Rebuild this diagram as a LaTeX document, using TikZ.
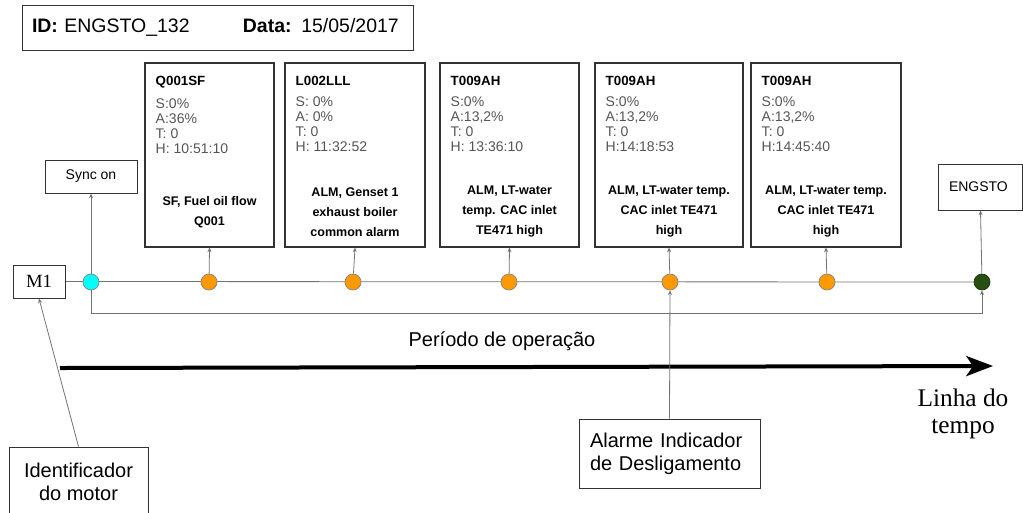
\documentclass[tikz,border=0pt]{standalone}
\usepackage{fontspec}
\setmainfont{Liberation Sans}
\newfontfamily\timesfont{Liberation Serif}
\usepackage{tikz}
\usetikzlibrary{positioning,
           arrows.meta}
\pgfdeclarelayer{background}
\pgfsetlayers{background,main}
\definecolor{laranja}{RGB}{255,153,0}
\definecolor{ciano}{RGB}{0,255,255}
\definecolor{verdeesc}{RGB}{39,78,19}
\definecolor{cinzatxt}{RGB}{85,85,85}
\definecolor{cinzalin}{RGB}{115,115,115}
\definecolor{borda}{RGB}{51,51,51}
\tikzset{
  caixa/.style={draw=borda,line width=0.8pt,minimum height=138pt,inner sep=0pt},
  titulo/.style={anchor=north west,inner sep=0pt,font=\bfseries\fontsize{10}{11.25}\selectfont},
  dados/.style={anchor=north west,align=left,inner sep=0pt,text=cinzatxt,font=\fontsize{10.5}{11.25}\selectfont},
  rodape/.style={align=center,inner sep=0pt,font=\bfseries\fontsize{9.4}{15}\selectfont},
  ponto/.style={circle,draw=gray,line width=0.5pt,minimum size=12pt,inner sep=0pt},
  liga/.style={draw=cinzalin,line width=0.6pt,-{Stealth[length=3.5pt,width=3pt]}},
  rotulo/.style={draw=borda,line width=0.75pt,inner sep=0pt}
}
\begin{document}
\begin{tikzpicture}[x=0.75pt,y=-0.75pt]
\useasboundingbox (0,0) rectangle (1023,512);
% cabecalho
\node[rotulo,minimum width=293.25pt,minimum height=33.75pt,text width=278.25pt,align=left,font=\fontsize{14.6}{16}\selectfont] (id) at (217.5,27.5) {\textbf{ID:} ENGSTO\_132\hspace{40pt}\textbf{Data:} 15/05/2017};
% eventos
\node[caixa,minimum width=96.75pt] (b1) at (209.5,155) {};
\node[caixa,minimum width=105pt] (b2) at (355,155) {};
\node[caixa,minimum width=104.25pt] (b3) at (509.5,155) {};
\node[caixa,minimum width=111pt] (b4) at (669,155) {};
\node[caixa,minimum width=112.5pt] (b5) at (826,155) {};
\node[titulo] (t1) at ([xshift=8.25pt,yshift=-9.75pt]b1.north west) {Q001SF};
\node[dados,below=8pt of t1.south west,anchor=north west] {S:0\%\\A:36\%\\T: 0\\H: 10:51:10};
\node[rodape] at ([yshift=-42.75pt]b1.center) {SF, Fuel oil flow\\Q001};
\node[titulo] (t2) at ([xshift=8.25pt,yshift=-9.75pt]b2.north west) {L002LLL};
\node[dados,below=8pt of t2.south west,anchor=north west] {S: 0\%\\A: 0\%\\T: 0\\H: 11:32:52};
\node[rodape] at ([yshift=-42.75pt]b2.center) {ALM, Genset 1\\exhaust boiler\\common alarm};
\node[titulo] (t3) at ([xshift=8.25pt,yshift=-9.75pt]b3.north west) {T009AH};
\node[dados,below=8pt of t3.south west,anchor=north west] {S:0\%\\A:13,2\%\\T: 0\\H: 13:36:10};
\node[rodape] at ([yshift=-42.75pt]b3.center) {ALM, LT-water\\temp. CAC inlet\\TE471 high};
\node[titulo] (t4) at ([xshift=8.25pt,yshift=-9.75pt]b4.north west) {T009AH};
\node[dados,below=8pt of t4.south west,anchor=north west] {S:0\%\\A:13,2\%\\T: 0\\H:14:18:53};
\node[rodape] at ([yshift=-42.75pt]b4.center) {ALM, LT-water temp.\\CAC inlet TE471\\high};
\node[titulo] (t5) at ([xshift=8.25pt,yshift=-9.75pt]b5.north west) {T009AH};
\node[dados,below=8pt of t5.south west,anchor=north west] {S:0\%\\A:13,2\%\\T: 0\\H:14:45:40};
\node[rodape] at ([yshift=-42.75pt]b5.center) {ALM, LT-water temp.\\CAC inlet TE471\\high};
% linha de eventos
\node[rotulo,minimum width=39pt,minimum height=24.75pt,font=\timesfont\fontsize{14}{14}\selectfont] (m1) at (39,281.5) {M1};
\node[rotulo,minimum width=69pt,minimum height=24.75pt,font=\fontsize{10.5}{12}\selectfont] (sync) at (91,176.5) {Sync on};
\node[rotulo,minimum height=34.5pt,text width=46.5pt,inner xsep=8.25pt,align=left,font=\fontsize{10.5}{12}\selectfont] (engsto) at (980,187) {ENGSTO};
\node[ponto,fill=ciano] (c0) at (91,282) {};
\node[ponto,fill=laranja] (e1) at (209,282) {};
\node[ponto,fill=laranja] (e2) at (353,282) {};
\node[ponto,fill=laranja] (e3) at (509,282) {};
\node[ponto,fill=laranja] (e4) at (670,282) {};
\node[ponto,fill=laranja] (e5) at (827,282) {};
\node[ponto,fill=verdeesc,draw=verdeesc!70!black] (ce) at (982,282) {};
\begin{pgfonlayer}{background}
\draw[cinzalin,line width=0.6pt] (m1.east) -- (ce.center);
\end{pgfonlayer}
\draw[liga] (c0) -- (sync);
\foreach \i in {1,...,5}
  \draw[liga] (e\i) -- (b\i.south);
\draw[liga] (ce) -- (engsto);
\coordinate (cb) at (91,313);
\draw[liga] (c0) -- (cb) -| (ce);
% legendas
\node[font=\fontsize{15}{18}\selectfont] (periodo) at (502,341) {Período de operação};
\coordinate (t0) at (60,368);
\coordinate (tf) at (993,366);
\draw[line width=3pt,-{Stealth[length=20pt,width=15pt,inset=5pt]}] (t0) -- (tf);
\node[font=\timesfont\fontsize{19}{20}\selectfont,align=center] (linha) at (963,414) {Linha do\\tempo};
\node[rotulo,minimum width=135.75pt,minimum height=51.75pt,text width=119.25pt,inner xsep=8.25pt,align=left,font=\fontsize{15}{17.25}\selectfont] (alarme) at (669.5,453.5) {Alarme Indicador\\de Desligamento};
\node[rotulo,minimum width=104.25pt,minimum height=52.5pt,align=center,font=\fontsize{15}{17.25}\selectfont] (ident) at (78.5,482) {Identificador\\do motor};
\draw[liga] (alarme.north) -- (e4);
\draw[liga] (ident.north) -- (m1.south);
\end{tikzpicture}
\end{document}
